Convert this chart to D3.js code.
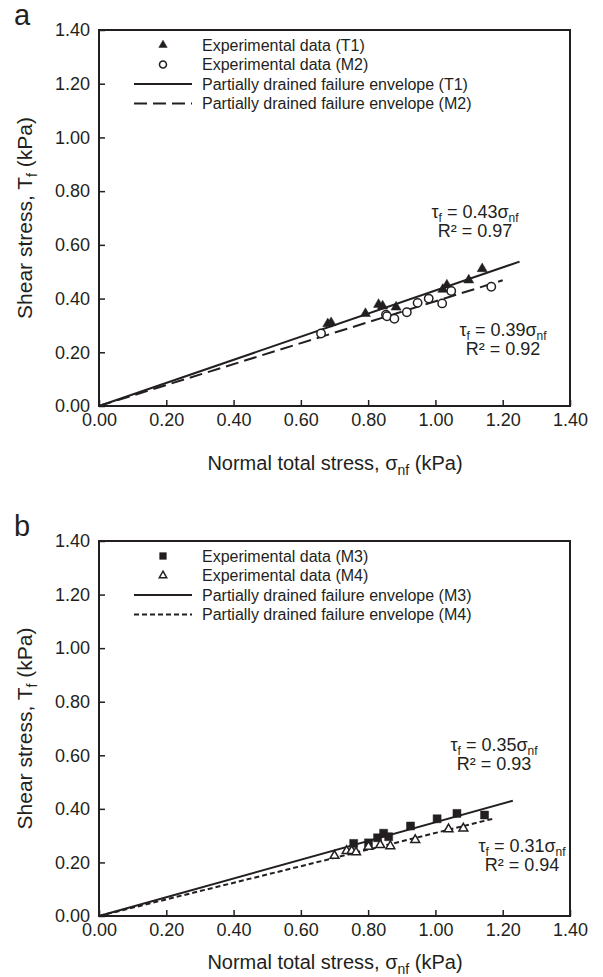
<!DOCTYPE html>
<html>
<head>
<meta charset="utf-8">
<script src="https://cdn.jsdelivr.net/npm/d3@7"></script>
<style>
  body { margin: 0; background: #fff; }
  text { font-family: "Liberation Sans", Arial, sans-serif; fill: #231f20; }
</style>
</head>
<body>
<div id="chart"></div>
<script>
const width = 603
const height = 977

const tickValues = [0, 0.2, 0.4, 0.6, 0.8, 1.0, 1.2, 1.4]

// panel a
const t1X = [0.680, 0.690, 0.792, 0.831, 0.843, 0.883, 1.022, 1.034, 1.099, 1.139]
const t1Y = [0.306, 0.310, 0.344, 0.378, 0.372, 0.368, 0.434, 0.450, 0.469, 0.511]
const m2X = [0.660, 0.853, 0.856, 0.878, 0.915, 0.947, 0.980, 1.020, 1.047, 1.166]
const m2Y = [0.270, 0.340, 0.334, 0.325, 0.349, 0.384, 0.400, 0.382, 0.428, 0.444]
const slopeT1 = 0.43, endT1 = 1.25
const slopeM2 = 0.39, endM2 = 1.20

// panel b
const m3X = [0.757, 0.801, 0.828, 0.846, 0.861, 0.926, 1.005, 1.064, 1.146]
const m3Y = [0.271, 0.273, 0.292, 0.309, 0.296, 0.336, 0.363, 0.383, 0.377]
const m4X = [0.700, 0.736, 0.751, 0.764, 0.801, 0.836, 0.866, 0.940, 1.039, 1.083]
const m4Y = [0.225, 0.243, 0.243, 0.238, 0.259, 0.265, 0.261, 0.284, 0.324, 0.327]
const slopeM3 = 0.35, endM3 = 1.23
const slopeM4 = 0.31, endM4 = 1.17

const svg = d3.select("#chart").append("svg")
  .attr("width", width)
  .attr("height", height)

const ink = "#231f20"

function drawPanel(p){

  const x = d3.scaleLinear().domain([0, 1.4]).range([99, 570])
  const y = d3.scaleLinear().domain([0, 1.4]).range([p.bottom, p.top])

  const g = svg.append("g")

  // panel letter
  g.append("text")
    .attr("x", 14).attr("y", p.top - 5)
    .style("font-size", "29px")
    .text(p.letter)

  // axes, ticks inside
  const xAxis = d3.axisBottom(x).tickValues(tickValues)
    .tickFormat(d3.format(".2f")).tickSizeInner(-6).tickSizeOuter(0).tickPadding(7)
  const yAxis = d3.axisLeft(y).tickValues(tickValues)
    .tickFormat(d3.format(".2f")).tickSizeInner(-6).tickSizeOuter(0).tickPadding(9)

  const gx = g.append("g").attr("transform", `translate(0,${p.bottom})`).call(xAxis)
  const gy = g.append("g").attr("transform", "translate(99,0)").call(yAxis)

  for(const a of [gx, gy]){
    a.select(".domain").remove()
    a.selectAll(".tick line").attr("stroke", ink).attr("stroke-width", 1.5)
    a.selectAll(".tick text").style("font-size", "18px").attr("fill", ink)
      .style("font-family", "'Liberation Sans', Arial, sans-serif")
  }

  // frame
  g.append("rect")
    .attr("x", 99).attr("y", p.top)
    .attr("width", 471).attr("height", p.bottom - p.top)
    .attr("fill", "none").attr("stroke", ink).attr("stroke-width", 2)

  // fitted lines
  for(const l of p.lines){
    g.append("line")
      .attr("x1", x(0)).attr("y1", y(0))
      .attr("x2", x(l.end)).attr("y2", y(l.slope * l.end))
      .attr("stroke", ink).attr("stroke-width", 2)
      .attr("stroke-dasharray", l.dash)
  }

  // points
  for(const s of p.series){
    const sym = d3.symbol().type(s.type).size(s.size)
    g.selectAll(null)
      .data(s.xs.map((v, i) => [v, s.ys[i]]))
      .join("path")
      .attr("d", sym)
      .attr("transform", d => `translate(${x(d[0])},${y(d[1])})`)
      .attr("fill", s.filled ? ink : "#fff")
      .attr("stroke", ink)
      .attr("stroke-width", s.filled ? 0.5 : 1.5)
  }

  // legend
  const rows = [
    {kind: "pt", s: p.series[0], label: p.series[0].label},
    {kind: "pt", s: p.series[1], label: p.series[1].label},
    {kind: "ln", l: p.lines[0], label: p.lines[0].label},
    {kind: "ln", l: p.lines[1], label: p.lines[1].label}
  ]
  rows.forEach((r, i) => {
    const cy = p.top + 15 + i * 19.5
    if(r.kind === "pt"){
      g.append("path")
        .attr("d", d3.symbol().type(r.s.type).size(r.s.size * 0.7))
        .attr("transform", `translate(163,${cy})`)
        .attr("fill", r.s.filled ? ink : "#fff")
        .attr("stroke", ink)
        .attr("stroke-width", r.s.filled ? 0.5 : 1.5)
    } else {
      g.append("line")
        .attr("x1", 134).attr("x2", 192)
        .attr("y1", cy).attr("y2", cy)
        .attr("stroke", ink).attr("stroke-width", 2)
        .attr("stroke-dasharray", r.l.dash)
    }
    g.append("text")
      .attr("x", 202).attr("y", cy + 5.5)
      .style("font-size", "16px")
      .text(r.label)
  })

  // equations
  for(const e of p.eqs){
    const t = g.append("text")
      .attr("x", e.x).attr("y", e.y)
      .attr("text-anchor", "middle")
      .style("font-size", "18px")
    t.append("tspan").text("τ")
    t.append("tspan").attr("dy", 4).style("font-size", "12px").text("f")
    t.append("tspan").attr("dy", -4).text(` = ${e.slope}σ`)
    t.append("tspan").attr("dy", 4).style("font-size", "12px").text("nf")
    g.append("text")
      .attr("x", e.x).attr("y", e.y + 19)
      .attr("text-anchor", "middle")
      .style("font-size", "18px")
      .text(`R² = ${e.r2}`)
  }

  // axis titles
  const xt = g.append("text")
    .attr("x", 335).attr("y", p.titleY)
    .attr("text-anchor", "middle")
    .style("font-size", "20px")
  xt.append("tspan").text("Normal total stress, σ")
  xt.append("tspan").attr("dy", 5).style("font-size", "14px").text("nf")
  xt.append("tspan").attr("dy", -5).text(" (kPa)")

  const yt = g.append("text")
    .attr("transform", `translate(32,${(p.top + p.bottom) / 2}) rotate(-90)`)
    .attr("text-anchor", "middle")
    .style("font-size", "21px")
  yt.append("tspan").text("Shear stress, T")
  yt.append("tspan").attr("dy", 5).style("font-size", "14px").text("f")
  yt.append("tspan").attr("dy", -5).text(" (kPa)")
}

drawPanel({
  letter: "a", top: 30, bottom: 406, titleY: 470,
  series: [
    {xs: t1X, ys: t1Y, type: d3.symbolTriangle, size: 44, filled: true, label: "Experimental data (T1)"},
    {xs: m2X, ys: m2Y, type: d3.symbolCircle, size: 55, filled: false, label: "Experimental data (M2)"}
  ],
  lines: [
    {slope: slopeT1, end: endT1, dash: null, label: "Partially drained failure envelope (T1)"},
    {slope: slopeM2, end: endM2, dash: "13,6", label: "Partially drained failure envelope (M2)"}
  ],
  eqs: [
    {x: 475, y: 218, slope: "0.43", r2: "0.97"},
    {x: 503, y: 336, slope: "0.39", r2: "0.92"}
  ]
})

drawPanel({
  letter: "b", top: 541, bottom: 916, titleY: 969,
  series: [
    {xs: m3X, ys: m3Y, type: d3.symbolSquare, size: 64, filled: true, label: "Experimental data (M3)"},
    {xs: m4X, ys: m4Y, type: d3.symbolTriangle, size: 34, filled: false, label: "Experimental data (M4)"}
  ],
  lines: [
    {slope: slopeM3, end: endM3, dash: null, label: "Partially drained failure envelope (M3)"},
    {slope: slopeM4, end: endM4, dash: "5,3", label: "Partially drained failure envelope (M4)"}
  ],
  eqs: [
    {x: 494, y: 751, slope: "0.35", r2: "0.93"},
    {x: 522, y: 852, slope: "0.31", r2: "0.94"}
  ]
})
</script>
</body>
</html>
